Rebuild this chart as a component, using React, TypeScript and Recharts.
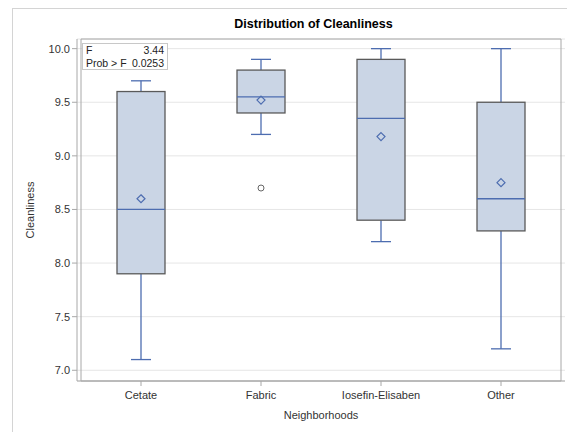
import React from "react";
import { ComposedChart, Bar, Scatter, XAxis, YAxis, CartesianGrid, ReferenceArea } from "recharts";

const categories = ["Cetate", "Fabric", "Iosefin-Elisaben", "Other"];
const whiskerLow = [7.1, 9.2, 8.2, 7.2];
const q1 = [7.9, 9.4, 8.4, 8.3];
const median = [8.5, 9.55, 9.35, 8.6];
const q3 = [9.6, 9.8, 9.9, 9.5];
const whiskerHigh = [9.7, 9.9, 10.0, 10.0];
const means = [8.6, 9.52, 9.18, 8.75];
const outliers: (number | null)[] = [null, 8.7, null, null];
const yTicks = [7.0, 7.5, 8.0, 8.5, 9.0, 9.5, 10.0];
const yDomain: [number, number] = [6.9, 10.09];

const FONT = "'Liberation Sans', Arial, sans-serif";
const BLUE = "#4d6db0";
const BOX_FILL = "#cad5e5";
const BOX_EDGE = "#5a5a5a";

const data = categories.map((name, i) => ({
  name,
  lo: whiskerLow[i],
  q1: q1[i],
  med: median[i],
  q3: q3[i],
  hi: whiskerHigh[i],
  mean: means[i],
  outlier: outliers[i],
}));

function BoxShape(props: any) {
  const { x, y, width, height, payload } = props;
  const top = Math.min(y, y + height);
  const h = Math.abs(height);
  const { lo, hi } = payload;
  const pix = (v: number) => top + ((hi - v) / (hi - lo)) * h;
  const cx = x + width / 2;
  const cap = 10;
  const yq1 = pix(payload.q1);
  const yq3 = pix(payload.q3);
  const ym = pix(payload.mean);
  const d = 4;
  return (
    <g>
      <line x1={cx} x2={cx} y1={pix(hi)} y2={yq3} stroke={BLUE} strokeWidth={1.3} />
      <line x1={cx} x2={cx} y1={yq1} y2={pix(lo)} stroke={BLUE} strokeWidth={1.3} />
      <line x1={cx - cap} x2={cx + cap} y1={pix(hi)} y2={pix(hi)} stroke={BLUE} strokeWidth={1.3} />
      <line x1={cx - cap} x2={cx + cap} y1={pix(lo)} y2={pix(lo)} stroke={BLUE} strokeWidth={1.3} />
      <rect x={x} y={yq3} width={width} height={yq1 - yq3} fill={BOX_FILL} stroke={BOX_EDGE} strokeWidth={1.3} />
      <line x1={x} x2={x + width} y1={pix(payload.med)} y2={pix(payload.med)} stroke={BLUE} strokeWidth={1.3} />
      <path d={`M${cx},${ym - d}L${cx + d},${ym}L${cx},${ym + d}L${cx - d},${ym}Z`} fill="none" stroke={BLUE} strokeWidth={1.2} />
    </g>
  );
}

function OutlierShape(props: any) {
  const { cx, cy } = props;
  if (cx == null || cy == null) return <g />;
  return <circle cx={cx} cy={cy} r={3} fill="none" stroke="#666" strokeWidth={1} />;
}

export default function App() {
  return (
    <div style={{ position: "absolute", left: 0, top: 0, width: 567, height: 432, background: "#fff", fontFamily: FONT, overflow: "hidden" }}>
      <div style={{ position: "absolute", left: 12, top: 8, width: 600, height: 500, borderLeft: "1px solid #d4d4d4", borderTop: "1px solid #d4d4d4" }} />
      <div style={{ position: "absolute", left: 0, width: 627, top: 17, textAlign: "center", fontSize: 12.5, fontWeight: "bold", color: "#000" }}>
        Distribution of Cleanliness
      </div>
      <div style={{ position: "absolute", left: 0, top: 0 }}>
        <ComposedChart width={567} height={432} data={data} margin={{ top: 39, right: 2, bottom: 21, left: 37 }}>
          <CartesianGrid horizontal vertical={false} stroke="#e6e6e6" />
          <ReferenceArea y1={yDomain[0]} y2={yDomain[1]} fill="none" stroke="#a8a8a8" strokeWidth={1} ifOverflow="extendDomain" />
          <XAxis
            dataKey="name"
            height={30}
            padding={{ left: 4, right: 4 }}
            tickSize={5}
            tickMargin={5}
            tick={{ fill: "#333", fontSize: 11, fontFamily: FONT }}
            axisLine={{ stroke: "#a8a8a8" }}
            tickLine={{ stroke: "#a8a8a8" }}
            label={{ value: "Neighborhoods", position: "insideBottom", offset: -8, fill: "#333", fontSize: 11, fontFamily: FONT }}
          />
          <YAxis
            type="number"
            domain={yDomain}
            ticks={yTicks}
            allowDataOverflow
            width={40}
            tickSize={5}
            tickMargin={2}
            tickFormatter={(v: number) => v.toFixed(1)}
            tick={{ fill: "#333", fontSize: 11, fontFamily: FONT }}
            axisLine={{ stroke: "#a8a8a8" }}
            tickLine={{ stroke: "#a8a8a8" }}
            label={{ value: "Cleanliness", angle: -90, position: "insideLeft", offset: -7, fill: "#333", fontSize: 11, fontFamily: FONT, style: { textAnchor: "middle" } }}
          />
          <Bar dataKey={(d: any) => [d.lo, d.hi]} barSize={48} shape={BoxShape} isAnimationActive={false} />
          <Scatter dataKey="outlier" shape={OutlierShape} isAnimationActive={false} />
        </ComposedChart>
      </div>
      <div style={{ position: "absolute", left: 82, top: 43, width: 86, height: 27, border: "1px solid #c8c8c8", background: "#fff", fontSize: 10.5, color: "#222", lineHeight: "12.5px", padding: "0 3px 0 3px", boxSizing: "border-box", whiteSpace: "nowrap" }}>
        <div style={{ display: "flex", justifyContent: "space-between" }}><span>F</span><span>3.44</span></div>
        <div style={{ display: "flex", justifyContent: "space-between" }}><span>Prob &gt; F</span><span>0.0253</span></div>
      </div>
    </div>
  );
}
